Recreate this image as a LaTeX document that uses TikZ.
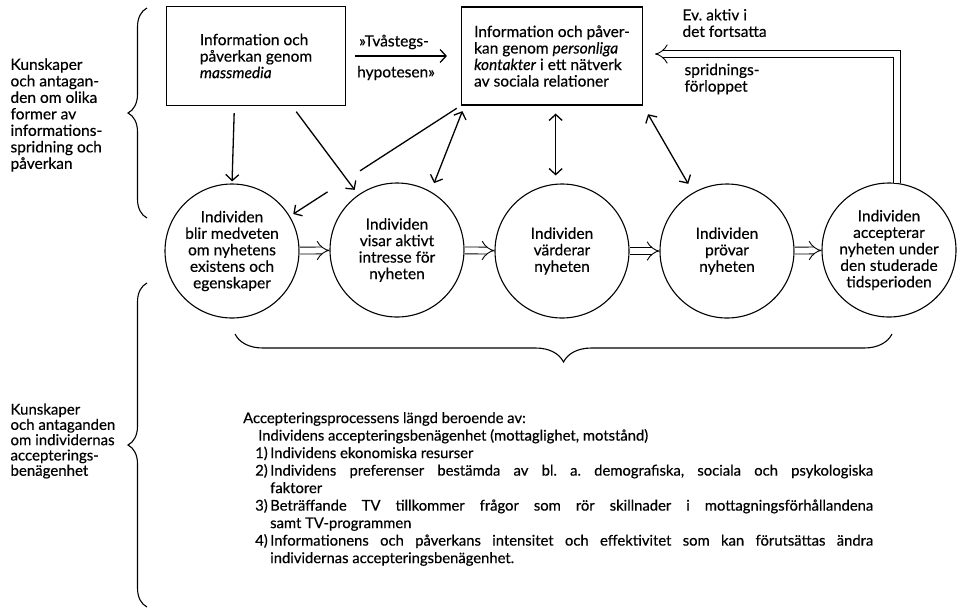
\documentclass[tikz,border=0pt]{standalone}
\usepackage{fontspec}
\setmainfont{Lato}[FakeBold=0.4]
\frenchspacing
\usetikzlibrary{positioning, arrows.meta, calc, decorations.pathreplacing}

\tikzset{
  infobox/.style={draw, line width=1.1pt, minimum width=179pt, minimum height=99pt, align=left},
  stage/.style={draw, circle, line width=1.1pt, minimum size=134pt, inner sep=0pt, align=center},
  arr/.style={line width=1.3pt, -{Straight Barb[length=6pt,width=13pt]}},
  biarr/.style={line width=1.3pt, {Straight Barb[length=6pt,width=13pt]}-{Straight Barb[length=6pt,width=13pt]}},
  flow/.style={double, double distance=6pt, line width=0.9pt, -{Implies}},
  bracket/.style={decorate, decoration={brace, amplitude=#1}, line width=1.1pt}
}

\begin{document}
\begin{tikzpicture}[x=1pt, y=-1pt, font=\fontsize{15.5}{16.5}\selectfont]
\useasboundingbox (0,0) rectangle (960,611);

\node[anchor=west, align=left] (know1) at (7,115) {Kunskaper\\och antagan-\\den om olika\\former av\\informations-\\spridning och\\påverkan};
\node[anchor=west, align=left, font=\fontsize{15}{15.3}\selectfont] (know2) at (7,441) {Kunskaper\\och antaganden\\om individernas\\accepterings-\\benägenhet};
\draw[bracket=19pt] (147,218) -- (147,8);
\draw[bracket=19pt] (147,607) -- (147,283);

\node[infobox] (mass) at (256,56) {Information och\\påverkan genom\\\textit{massmedia}};
\node[infobox, minimum width=181pt, minimum height=98pt] (pers) at (552,56) {Information och påver-\\kan genom \textit{personliga}\\\textit{kontakter} i ett nätverk\\av sociala relationer};

\draw[arr, shorten <=9pt, shorten >=14pt] (mass) -- (pers);
\node (tva1) at (394,42) {»Tvåstegs-};
\node (tva2) at (396,73) {hypotesen»};

\node[stage] (c1) at (232,251) {Individen\\blir medveten\\om nyhetens\\existens och\\egenskaper};
\node[stage] (c2) at (397,250) {Individen\\visar aktivt\\intresse för\\nyheten};
\node[stage] (c3) at (562,251) {Individen\\värderar\\nyheten};
\node[stage] (c4) at (727,251) {Individen\\prövar\\nyheten};
\node[stage] (c5) at (889,250) {Individen\\accepterar\\nyheten under\\den studerade\\tidsperioden};

\foreach \a/\b in {c1/c2, c2/c3, c3/c4, c4/c5}
  \draw[flow] (\a) -- (\b);

\draw[arr, shorten <=7pt, shorten >=2pt] ($(mass.south west)!0.38!(mass.south east)$) -- (c1.north);
\draw[arr, shorten <=7pt, shorten >=6pt] ($(mass.south west)!0.7!(mass.south east)$) -- (c2.125);
\draw[line width=1.3pt, shorten <=5pt] (pers.south west) -- ($(pers.south west)!0.59!(c1.31)$);
\draw[arr, shorten >=4pt] ($(pers.south west)!0.78!(c1.31)$) -- (c1.31);
\draw[biarr, shorten <=6pt, shorten >=9pt] ($(pers.south west)!0.02!(pers.south east)$) -- (c2.60);
\coordinate (p3) at ($(pers.south west)!0.52!(pers.south east)$);
\draw[biarr, shorten <=8pt, shorten >=8pt] (p3) -- (p3 |- c3.north);
\draw[biarr, shorten <=10pt, shorten >=10pt] (pers.south east) -- (c4.120);

\coordinate (fb) at (655,54);
\draw[flow] (c5.83) |- (fb);
\node[anchor=west, align=left] (ev) at (679,23) {Ev. aktiv i\\det fortsatta};
\node[anchor=west, align=left] (spr) at (681,79) {spridnings-\\förloppet};

\draw[bracket=28pt] (892,334) -- (235,334);

\node[anchor=north west, inner sep=0pt, text width=630pt, align=justify, font=\fontsize{14.8}{17.5}\selectfont] (accept) at (243,412) {%
\parindent=0pt
Accepteringsprocessens längd beroende av:\par
\hspace*{15pt}Individens accepteringsbenägenhet (mottaglighet, motstånd)\par
\leftskip=12pt
\hangindent=15pt\hangafter=1 \makebox[15pt][l]{1)}Individens ekonomiska resurser\par
\hangindent=15pt\hangafter=1 \makebox[15pt][l]{2)}Individens preferenser bestämda av bl. a. demografiska, sociala och psykologiska\linebreak faktorer\par
\hangindent=15pt\hangafter=1 \makebox[15pt][l]{3)}Beträffande TV tillkommer frågor som rör skillnader i mottagningsförhållandena\linebreak samt TV-programmen\par
\hangindent=15pt\hangafter=1 \makebox[15pt][l]{4)}Informationens och påverkans intensitet och effektivitet som kan förutsättas ändra\linebreak individernas accepteringsbenägenhet.\par};
\end{tikzpicture}
\end{document}
